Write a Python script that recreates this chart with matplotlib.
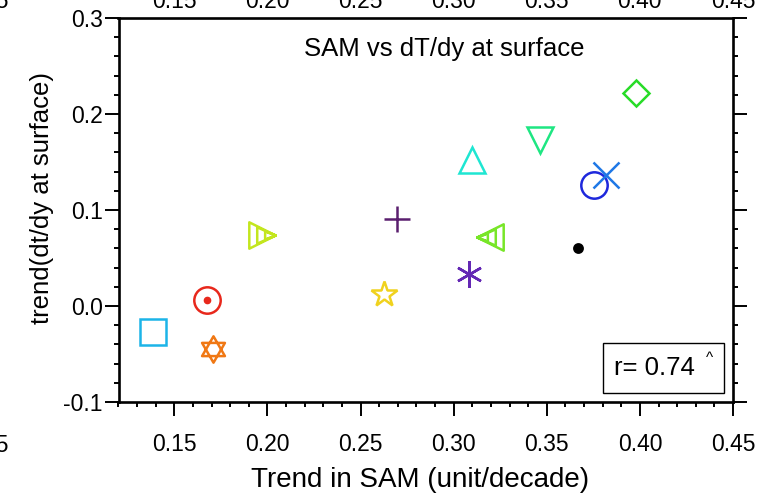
import numpy as np
import matplotlib.pyplot as plt
from matplotlib.path import Path
from matplotlib.patches import Rectangle

plt.rcParams['font.family'] = ['Liberation Sans', 'DejaVu Sans']

# trend in SAM vs trend in dT/dy, one point per model
sam = [0.1385, 0.1675, 0.1708, 0.1971, 0.2626, 0.2696, 0.3082,
       0.3099, 0.3195, 0.3464, 0.3668, 0.3754, 0.3818, 0.3979]
dtdy = [-0.027, 0.006, -0.045, 0.074, 0.0125, 0.0906, 0.0333,
        0.1516, 0.072, 0.173, 0.0604, 0.126, 0.1365, 0.222]
colors = ['#1cb4e8', '#e8281c', '#f07814', '#c3e61e', '#f0d21e', '#5a1e6e', '#6428b4',
          '#1ee6d2', '#78e628', '#1ee682', '#000000', '#1e28dc', '#1e78e6', '#28dc28']
r_text = 'r= 0.74'
xticks = [0.15, 0.20, 0.25, 0.30, 0.35, 0.40, 0.45]
yticks = [-0.1, 0.0, 0.1, 0.2, 0.3]

M, L, C = Path.MOVETO, Path.LINETO, Path.CLOSEPOLY
tri3 = [(-1, 1), (1, 0), (-1, -1), (-1, 1)]
star_david = Path([(0, 1), (-0.866, -0.5), (0.866, -0.5), (0, 1),
                   (0, -1), (-0.866, 0.5), (0.866, 0.5), (0, -1)],
                  [M, L, L, C, M, L, L, C])
nest_r = Path(tri3 + [(-0.4, 0.62), (1, 0), (-0.4, -0.62), (-0.4, 0.62)]
              + [(0.2, 0.3), (1, 0), (0.2, -0.3), (0.2, 0.3)],
              [M, L, L, C] * 3)
nest_l = Path([(-x, y) for x, y in nest_r.vertices], nest_r.codes)

markers = ['s', 'o', star_david, nest_r, '*', '+', (6, 2, 0),
           '^', nest_l, 'v', 'o', 'o', 'x', 'D']
sizes = [19, 19, 19, 19, 19, 19, 19, 19, 19, 19, 6, 19, 19, 13.5]

fig = plt.figure(figsize=(7.74, 4.99), dpi=100)
ax = fig.add_axes([118.5 / 774, 1 - 402 / 499, 614.5 / 774, 384 / 499])

for x, y, c, m, s in zip(sam, dtdy, colors, markers, sizes):
    filled = s < 10
    ax.plot(x, y, marker=m, ms=s, color=c, mec=c,
            mfc=c if filled else 'none', mew=1.8, ls='none')
# dot inside the red circle
ax.plot(sam[1], dtdy[1], marker='o', ms=4.5, color=colors[1], ls='none')

ax.set_xlim(0.12, 0.45)
ax.set_ylim(-0.1, 0.3)
ax.set_xticks(xticks)
ax.set_xticklabels(['%.2f' % t for t in xticks])
ax.set_yticks(yticks)
ax.set_yticklabels(['%.1f' % t for t in yticks])
ax.set_xticks(np.arange(0.12, 0.4501, 0.01), minor=True)
ax.set_yticks(np.arange(-0.1, 0.3001, 0.02), minor=True)

ax.tick_params(which='both', direction='out', width=1.4, top=False, right=True,
               labelsize=16.5)
ax.tick_params(which='major', length=10)
ax.tick_params(which='minor', length=3.6)
ax.tick_params(axis='x', pad=12)
ax.tick_params(axis='y', pad=1.5)
for sp in ax.spines.values():
    sp.set_linewidth(1.9)

ax.set_xlabel('Trend in SAM (unit/decade)', fontsize=20)
ax.xaxis.set_label_coords(0.49, -0.17)
ax.set_ylabel('trend(dt/dy at surface)', fontsize=18.5)
ax.yaxis.set_label_coords(-0.105, 0.53)
ax.text(0.53, 0.92, 'SAM vs dT/dy at surface', transform=ax.transAxes,
        ha='center', va='center', fontsize=18.5)

# correlation box
ax.add_patch(Rectangle((0.788, 0.0234), 0.197, 0.1306, transform=ax.transAxes,
                       fill=False, lw=1.0, ec='black'))
ax.text(0.872, 0.088, r_text, transform=ax.transAxes, ha='center', va='center',
        fontsize=18.5)
ax.text(0.962, 0.115, '^', transform=ax.transAxes, ha='center', va='center',
        fontsize=11)

# pieces of the neighbouring panels cut off by the crop
for t in xticks:
    xf = (118.5 + (t - 0.12) * 1862) / 774
    fig.text(xf, 1 - 8 / 499, '%.2f' % t, ha='center', va='baseline', fontsize=16.5)
fig.text(-14 / 774, 1 - 8 / 499, '0.45', ha='center', va='baseline', fontsize=16.5)
fig.text(-14 / 774, 1 - 452 / 499, '0.45', ha='center', va='baseline', fontsize=16.5)

fig.savefig('out.png', dpi=100)
